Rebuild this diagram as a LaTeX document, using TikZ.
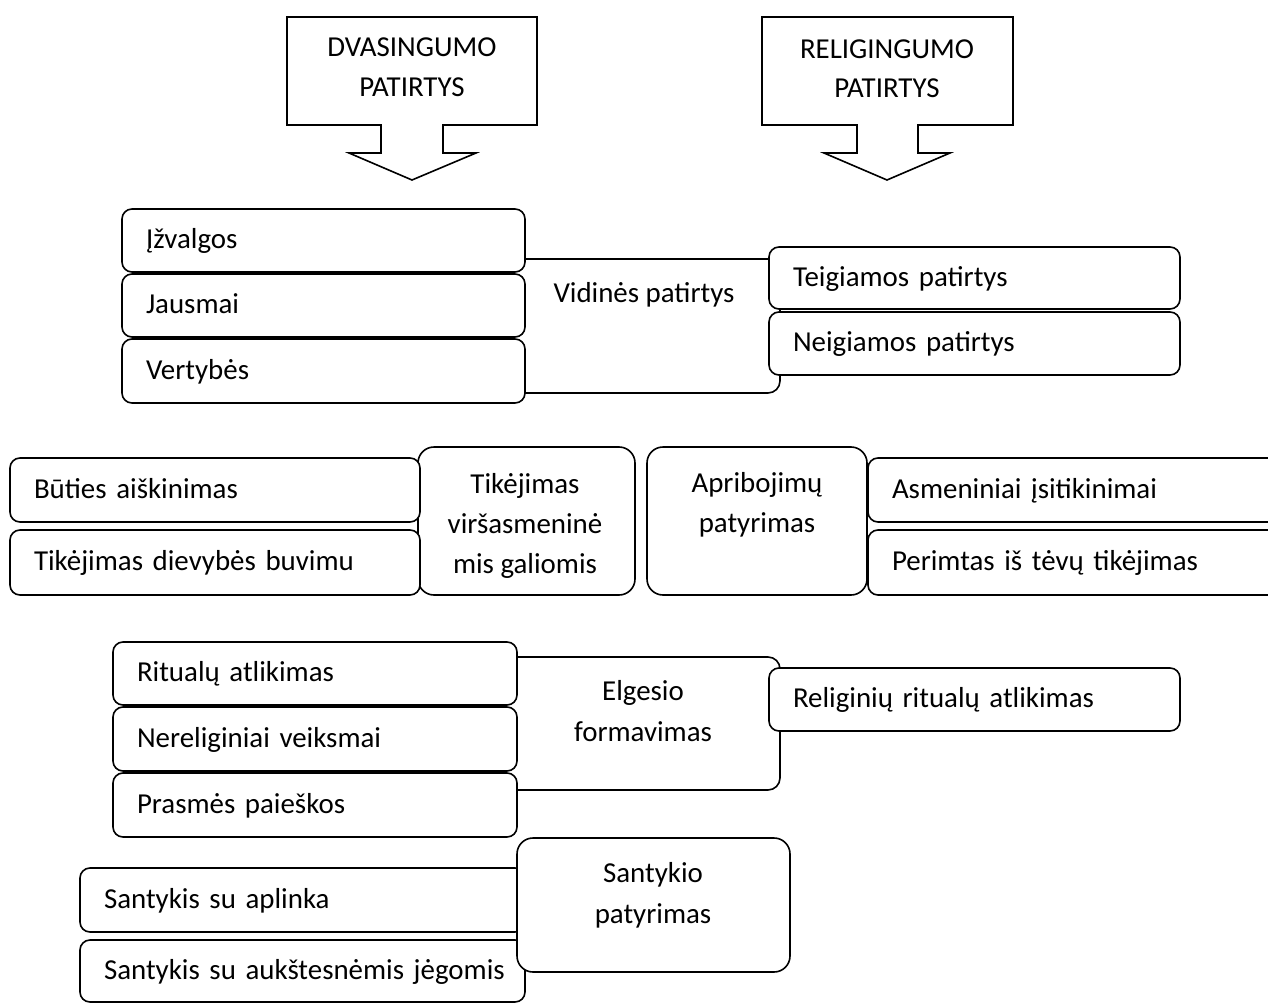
\documentclass[tikz,border=0pt]{standalone}
\usepackage{fontspec}
\setmainfont{Carlito}
\newcommand\mainfnt{\fontsize{28.9pt}{40pt}\selectfont}
\newcommand\itm[1]{\strut\mbox{#1}}
\tikzset{
  frame/.style={draw=black, line width=1.6pt, fill=white, outer sep=0pt},
  itembox/.style={frame, rounded corners=10pt, inner xsep=24pt, inner ysep=0pt,
    align=left, anchor=north west, font=\mainfnt},
  bigbox/.style={frame, rounded corners=#1, inner sep=0pt, anchor=north west},
  bigbox/.default=14pt,
  lbl/.style={anchor=base, inner sep=0pt, font=\mainfnt},
  callout/.style={draw=black, line width=1.6pt, fill=white, line join=miter}
}
\begin{document}
\begin{tikzpicture}[x=1pt, y=-1pt]
\useasboundingbox[fill=white] (0,0) rectangle (1268,1003);

% ---- callouts
\draw[callout] (287,17) -- (537,17) -- (537,125) -- (443,125) -- (443,153) -- (476,153)
  -- (412,180) -- (349,153) -- (381,153) -- (381,125) -- (287,125) -- cycle;
\node[lbl] (dv1) at (412,57) {DVASINGUMO};
\node[lbl] (dv2) at (412,97) {PATIRTYS};

\draw[callout] (762,17) -- (1013,17) -- (1013,125) -- (918,125) -- (918,153) -- (950,153)
  -- (887,180) -- (824,153) -- (857,153) -- (857,125) -- (762,125) -- cycle;
\node[lbl] (re1) at (887,59) {RELIGINGUMO};
\node[lbl] (re2) at (887,98) {PATIRTYS};

% ---- row 1
\node[bigbox=12pt, minimum width=272pt, minimum height=134pt] (vid) at (508,259) {};
\node[lbl] (vidt) at (644,302) {Vidinės patirtys};
\node[itembox, minimum width=403pt, minimum height=63pt, text width=355pt] (izv) at (122,209) {\itm{Įžvalgos}};
\node[itembox, minimum width=403pt, minimum height=63pt, text width=355pt] (jau) at (122,274) {\itm{Jausmai}};
\node[itembox, minimum width=403pt, minimum height=64pt, text width=355pt] (ver) at (122,339) {\itm{Vertybės}};
\node[itembox, minimum width=411pt, minimum height=62pt, text width=363pt] (tei) at (769,247) {\itm{Teigiamos patirtys}};
\node[itembox, minimum width=411pt, minimum height=63pt, text width=363pt] (nei) at (769,312) {\itm{Neigiamos patirtys}};

% ---- row 2
\node[bigbox=16pt, minimum width=217pt, minimum height=148pt] (tik) at (418,447) {};
\node[lbl] (tik1) at (525,493) {Tikėjimas};
\node[lbl] (tik2) at (525,533) {viršasmeninė};
\begin{scope}
  \clip (420,440) rectangle (633,577);
  \node[lbl] (tik3) at (525,573) {mis galiomis};
\end{scope}
\node[itembox, minimum width=410pt, minimum height=64pt, text width=362pt] (but) at (10,458) {\itm{Būties aiškinimas}};
\node[itembox, minimum width=410pt, minimum height=65pt, text width=362pt] (tdb) at (10,530) {\itm{Tikėjimas dievybės buvimu}};

\node[bigbox=16pt, minimum width=220pt, minimum height=148pt] (apr) at (647,447) {};
\node[lbl] (apr1) at (757,492) {Apribojimų};
\node[lbl] (apr2) at (757,532) {patyrimas};
\node[itembox, minimum width=420pt, minimum height=64pt, text width=372pt] (asm) at (868,458) {\itm{Asmeniniai įsitikinimai}};
\node[itembox, minimum width=420pt, minimum height=65pt, text width=372pt] (per) at (868,530) {\itm{Perimtas iš tėvų tikėjimas}};

% ---- row 3
\node[bigbox=12pt, minimum width=275pt, minimum height=133pt] (elg) at (505,657) {};
\node[lbl] (elg1) at (643,700) {Elgesio};
\node[lbl] (elg2) at (643,741) {formavimas};
\node[itembox, minimum width=404pt, minimum height=63pt, text width=356pt] (rit) at (113,642) {\itm{Ritualų atlikimas}};
\node[itembox, minimum width=404pt, minimum height=64pt, text width=356pt] (ner) at (113,707) {\itm{Nereliginiai veiksmai}};
\node[itembox, minimum width=404pt, minimum height=64pt, text width=356pt] (pra) at (113,773) {\itm{Prasmės paieškos}};
\node[itembox, minimum width=411pt, minimum height=63pt, text width=363pt] (rel) at (769,668) {\itm{Religinių ritualų atlikimas}};

% ---- row 4
\node[itembox, minimum width=445pt, minimum height=64pt, text width=397pt] (sap) at (80,868) {\itm{Santykis su aplinka}};
\node[itembox, minimum width=445pt, minimum height=62pt, text width=397pt] (saj) at (80,940) {\itm{Santykis su aukštesnėmis jėgomis}};
\node[bigbox=16pt, minimum width=273pt, minimum height=134pt] (san) at (517,838) {};
\node[lbl] (san1) at (653,882) {Santykio};
\node[lbl] (san2) at (653,923) {patyrimas};
\end{tikzpicture}
\end{document}
